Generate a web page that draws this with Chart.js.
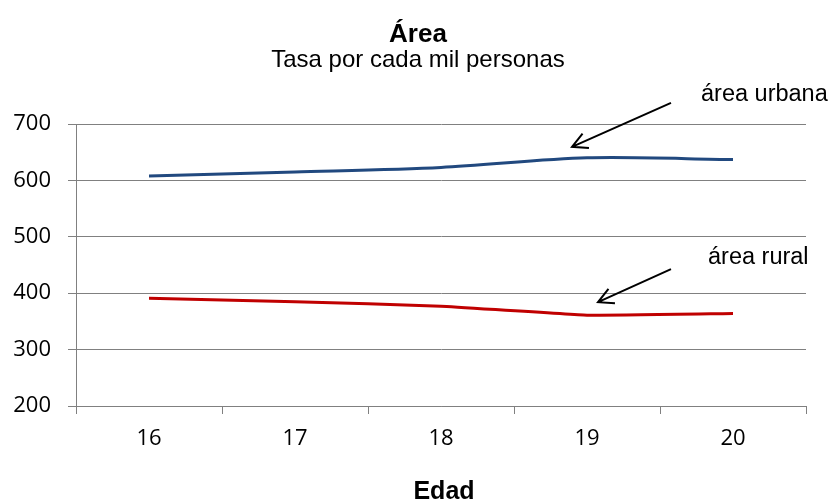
<!DOCTYPE html>
<html>
<head>
<meta charset="utf-8">
<script src="https://cdn.jsdelivr.net/npm/chart.js@4.4.1/dist/chart.umd.min.js"></script>
<style>
  html, body { margin: 0; padding: 0; background: #ffffff; }
  #wrap { width: 833px; height: 502px; position: relative; }
</style>
</head>
<body>
<div id="wrap"><canvas id="c"></canvas></div>
<script>
const edades = ['16', '17', '18', '19', '20'];
const areaUrbana = [608, 615, 623, 640, 637];
const areaRural = [391, 385, 377, 361, 364];
const yTicks = [200, 300, 400, 500, 600, 700];
const titulo = 'Área';
const subtitulo = 'Tasa por cada mil personas';
const tituloX = 'Edad';
const etiquetaUrbana = 'área urbana';
const etiquetaRural = 'área rural';

const GRID = '#808080';

function arrow(ctx, x1, y1, x2, y2) {
  const ang = Math.atan2(y2 - y1, x2 - x1);
  const L = 17, a = Math.PI / 6.5;
  ctx.beginPath();
  ctx.moveTo(x1, y1);
  ctx.lineTo(x2, y2);
  ctx.moveTo(x2 - L * Math.cos(ang - a), y2 - L * Math.sin(ang - a));
  ctx.lineTo(x2, y2);
  ctx.lineTo(x2 - L * Math.cos(ang + a), y2 - L * Math.sin(ang + a));
  ctx.stroke();
}

const decor = {
  id: 'decor',
  afterDraw(chart) {
    const ctx = chart.ctx;
    const xs = chart.scales.x, ys = chart.scales.y;
    ctx.save();
    ctx.fillStyle = '#000';
    ctx.textAlign = 'center';
    ctx.textBaseline = 'alphabetic';
    ctx.font = 'bold 26px "Liberation Sans", Arial, sans-serif';
    ctx.fillText(titulo, 418, 42);
    ctx.font = '24px "Liberation Sans", Arial, sans-serif';
    ctx.fillText(subtitulo, 418, 67);
    ctx.font = 'bold 25px "Liberation Sans", Arial, sans-serif';
    ctx.fillText(tituloX, 444, 499);

    ctx.textAlign = 'left';
    ctx.font = '23.5px "Liberation Sans", Arial, sans-serif';
    ctx.fillText(etiquetaUrbana, 701, 101);
    ctx.fillText(etiquetaRural, 708, 264);

    ctx.strokeStyle = '#000';
    ctx.lineWidth = 2;
    const ux = xs.getPixelForValue(3), uy = ys.getPixelForValue(areaUrbana[3]);
    arrow(ctx, ux + 84, uy - 55, ux - 15, uy - 11);
    const rx = xs.getPixelForValue(3), ry = ys.getPixelForValue(areaRural[3]);
    arrow(ctx, rx + 84, ry - 46, rx + 11, ry - 13);
    ctx.restore();
  }
};

new Chart(document.getElementById('c'), {
  type: 'line',
  data: {
    labels: edades,
    datasets: [
      { label: etiquetaUrbana, data: areaUrbana, borderColor: '#21497f', borderWidth: 3,
        pointRadius: 0, tension: 0.3, fill: false },
      { label: etiquetaRural, data: areaRural, borderColor: '#c00000', borderWidth: 3,
        pointRadius: 0, tension: 0.1, fill: false }
    ]
  },
  options: {
    responsive: true,
    maintainAspectRatio: false,
    animation: false,
    layout: { padding: { top: 124, right: 27, left: 0, bottom: 0 } },
    plugins: { legend: { display: false }, title: { display: false }, tooltip: { enabled: false } },
    scales: {
      x: {
        type: 'category',
        offset: true,
        afterFit(s) { s.height = 96; },
        grid: { display: true, drawOnChartArea: false, drawTicks: true, tickLength: 8, color: GRID, offset: true },
        border: { display: true, color: GRID, width: 1 },
        ticks: { color: '#000', padding: 12, font: { family: '"Open Sans", sans-serif', size: 22 } }
      },
      y: {
        min: 200, max: 700,
        afterFit(s) { s.width = 76; },
        afterBuildTicks(s) { s.ticks = yTicks.map(v => ({ value: v })); },
        grid: { display: true, drawOnChartArea: true, drawTicks: true, tickLength: 8, color: GRID, lineWidth: 1 },
        border: { display: true, color: GRID, width: 1 },
        ticks: { color: '#000', padding: 17, font: { family: '"Open Sans", sans-serif', size: 22 } }
      }
    }
  },
  plugins: [decor]
});
</script>
</body>
</html>
